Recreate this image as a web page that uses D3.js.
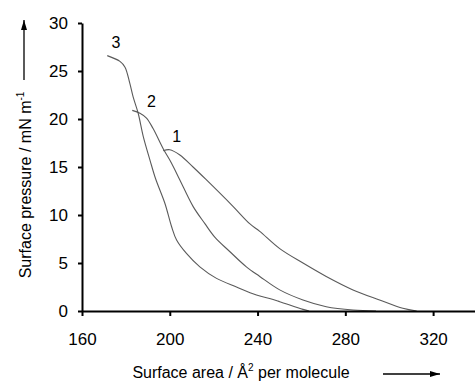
<!DOCTYPE html>
<html>
<head>
<meta charset="utf-8">
<script src="https://cdn.jsdelivr.net/npm/d3@7"></script>
<style>
  body { margin: 0; background: #fff; }
  svg { display: block; font-family: Arial, "Liberation Sans", sans-serif; }
</style>
</head>
<body>
<svg id="chart"></svg>
<script>
const svgWidth = 475, svgHeight = 383;

// isotherm data: [area Å²/molecule, surface pressure mN/m]
const curve1 = [[197,16.7],[200,16.8],[204.6,16.25],[210.6,15.0],[216.5,13.7],[228.8,10.9],[236.4,9.1],
    [241,8.3],[250.1,6.5],[260.7,5.0],[271.3,3.6],[283.5,2.2],[295.6,1.15],[306.2,0.28],[312.5,0]];
const curve2 = [[182.9,20.9],[186.4,20.6],[189.4,20.1],[192.4,19.0],[197,16.9],[200.8,15.4],[204.6,13.65],
    [210.6,10.9],[216,9.1],[220.5,7.7],[227.3,6.2],[234.9,4.6],[241,3.6],[250.1,2.2],[260.7,1.15],
    [271.3,0.45],[283.5,0.1],[294,0]];
const curve3 = [[171.5,26.6],[177.3,26.0],[179.6,25.4],[181.8,23.7],[183.3,22.3],[185.6,20.6],[187.9,18.2],
    [191,15.7],[193.5,13.8],[197.8,11.2],[200.8,8.8],[203.1,7.4],[207.6,6.0],[213.7,4.6],[221.3,3.4],
    [230.4,2.5],[239.5,1.67],[245.5,1.3],[250.1,0.97],[260.7,0.17],[263.5,0]];
const curves = [curve1, curve2, curve3];

// curve numbers, anchored in data units
const curveLabels = ["1", "2", "3"];
const labelAnchors = [[203.2, 17.6], [191.7, 21.25], [175.5, 27.4]];

const xTicks = [160, 200, 240, 280, 320];
const yTicks = [0, 5, 10, 15, 20, 25, 30];
const xDomain = [160, 340], yDomain = [0, 30];

const chart = d3.select("#chart")
    .attr("width", svgWidth)
    .attr("height", svgHeight);

var xScale = d3.scaleLinear().domain(xDomain).range([82, 477]);
var yScale = d3.scaleLinear().domain(yDomain).range([311, 23]);

var line = d3.line()
    .x(d => xScale(d[0]))
    .y(d => yScale(d[1]))
    .curve(d3.curveCatmullRom.alpha(0.5));

// curves
chart.append("g")
    .selectAll("path")
    .data(curves)
    .enter()
    .append("path")
    .attr("d", line)
    .attr("fill", "none")
    .attr("stroke", "#5a5a5a")
    .attr("stroke-width", 1.1);

// axes
var xAxis = chart.append("g")
    .attr("transform", "translate(0," + yScale(0) + ")")
    .call(d3.axisBottom(xScale).tickValues(xTicks).tickSize(5).tickSizeOuter(0).tickPadding(17));
var yAxis = chart.append("g")
    .attr("transform", "translate(" + xScale(160) + ",0)")
    .call(d3.axisLeft(yScale).tickValues(yTicks).tickSize(4).tickSizeOuter(0).tickPadding(10));

[xAxis, yAxis].forEach(function(ax) {
    ax.selectAll("path, line").attr("stroke", "#000").attr("stroke-width", 2);
    ax.selectAll("text").attr("font-size", 17).attr("fill", "#000")
        .attr("font-family", "Arial, 'Liberation Sans', sans-serif");
});

// curve labels
chart.append("g")
    .selectAll("text")
    .data(curveLabels)
    .enter()
    .append("text")
    .attr("x", (d, i) => xScale(labelAnchors[i][0]))
    .attr("y", (d, i) => yScale(labelAnchors[i][1]))
    .attr("text-anchor", "middle")
    .attr("font-size", 16)
    .text(d => d);

// axis titles
var xTitle = chart.append("text")
    .attr("x", 241)
    .attr("y", 378)
    .attr("text-anchor", "middle")
    .attr("font-size", 16);
xTitle.append("tspan").text("Surface area / Å");
xTitle.append("tspan").attr("font-size", 10).attr("dy", -7).text("2");
xTitle.append("tspan").attr("dy", 7).text(" per molecule");

var yTitle = chart.append("text")
    .attr("transform", "translate(31,185) rotate(-90)")
    .attr("text-anchor", "middle")
    .attr("font-size", 16);
yTitle.append("tspan").text("Surface pressure / mN m");
yTitle.append("tspan").attr("font-size", 10).attr("dy", -7).text("-1");

// arrows
chart.append("defs").append("marker")
    .attr("id", "arrow")
    .attr("viewBox", "0 0 10 6")
    .attr("refX", 10).attr("refY", 3)
    .attr("markerWidth", 10).attr("markerHeight", 6)
    .attr("markerUnits", "userSpaceOnUse")
    .attr("orient", "auto")
    .append("path")
    .attr("d", "M0,0L10,3L0,6Z")
    .attr("fill", "#000");

chart.append("line")
    .attr("x1", 24).attr("y1", 80).attr("x2", 24).attr("y2", 20)
    .attr("stroke", "#000").attr("stroke-width", 1.3)
    .attr("marker-end", "url(#arrow)");
chart.append("line")
    .attr("x1", 383).attr("y1", 374).attr("x2", 440).attr("y2", 374)
    .attr("stroke", "#000").attr("stroke-width", 1.3)
    .attr("marker-end", "url(#arrow)");
</script>
</body>
</html>
